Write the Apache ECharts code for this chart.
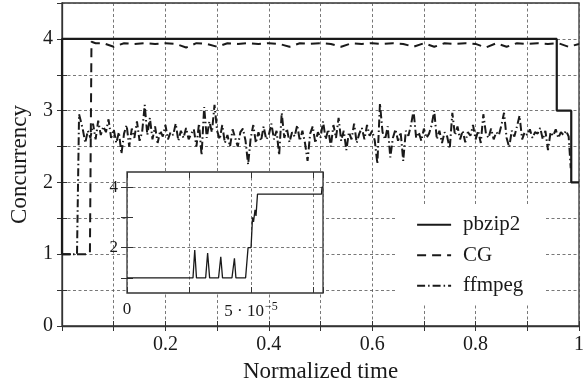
<!DOCTYPE html>
<html>
<head>
<meta charset="utf-8">
<script src="https://cdn.jsdelivr.net/npm/echarts@6/dist/echarts.min.js"></script>
<style>
html,body{margin:0;padding:0;background:#fff;}
#c{width:587px;height:388px;}
</style>
</head>
<body>
<div id="c"></div>
<script>
// ---------------- data ----------------
const seriesNames = ['pbzip2', 'CG', 'ffmpeg'];

// pbzip2 (step function)
const pbzipX = [0, 0.00008, 0.957, 0.957, 0.985, 0.985, 1.0];
const pbzipY = [1, 4, 4, 3, 3, 2, 2];

// CG: start, then sampled every 0.02 from 0.08
const cgHeadX = [0, 0.054, 0.057, 0.065];
const cgHeadY = [1, 1, 3.96, 3.94];
const cgStart = 0.08, cgStep = 0.02;
const cgY = [3.94, 3.89, 3.94, 3.93, 3.94, 3.93, 3.94, 3.93, 3.88, 3.94,
             3.93, 3.89, 3.94, 3.93, 3.94, 3.93, 3.94, 3.93, 3.89, 3.94,
             3.93, 3.94, 3.93, 3.89, 3.94, 3.93, 3.94, 3.93, 3.94, 3.93,
             3.89, 3.94, 3.89, 3.94, 3.93, 3.94, 3.93, 3.88, 3.94, 3.89,
             3.94, 3.93, 3.94, 3.93, 3.94, 3.89, 3.93];

// ffmpeg: start, then sampled every 0.005 from 0.04, then tail
const ffHeadX = [0, 0.029, 0.033];
const ffHeadY = [1, 1, 2.95];
const ffStart = 0.04, ffStep = 0.005;
const ffY = [
  2.75, 2.55, 2.72, 2.62, 2.82, 2.60, 2.86, 2.66, 2.78, 2.70, 2.88, 2.62,
  2.74, 2.55, 2.70, 2.40, 2.68, 2.80, 2.50, 2.75, 2.62, 2.85, 2.58, 2.70, 3.08, 2.66, 2.90, 2.60, 2.78, 2.55, 2.72, 2.64,
  2.80, 2.60, 2.70, 2.66, 2.82, 2.58, 2.72, 2.62, 2.76, 2.60, 2.68, 2.74, 2.50, 2.82, 2.38, 3.05, 2.62, 2.85, 2.70, 3.08,
  2.72, 2.60, 2.80, 2.55, 2.66, 2.50, 2.74, 2.62, 2.50, 2.70, 2.75, 2.58, 2.25, 2.62, 2.80, 2.55, 2.70, 2.58, 2.78, 2.60,
  2.66, 2.82, 2.60, 2.72, 2.38, 2.97, 2.62, 2.75, 2.56, 2.70, 2.64, 2.80, 2.58, 2.72, 2.55, 2.30, 2.68, 2.78, 2.55, 2.70,
  2.62, 2.85, 2.60, 2.74, 2.50, 2.80, 2.62, 2.90, 2.58, 2.72, 2.45, 2.70, 2.60, 2.82, 2.55, 2.68, 2.76, 2.60, 2.80, 2.65,
  2.72, 2.58, 2.26, 3.10, 2.70, 2.60, 2.78, 2.35, 2.62, 2.74, 2.58, 2.70, 2.30, 2.72, 2.65, 2.80, 3.00, 2.62, 2.70, 2.58,
  2.75, 2.62, 2.68, 2.80, 3.00, 2.60, 2.72, 2.55, 2.70, 2.64, 2.47, 2.97, 2.66, 2.78, 2.60, 2.72, 2.56, 2.70, 2.65, 2.80,
  2.60, 2.72, 2.55, 2.95, 2.68, 2.62, 2.75, 2.60, 2.70, 2.66, 2.80, 2.97, 2.62, 2.49, 2.72, 2.64, 2.78, 2.93, 2.60, 2.70,
  2.66, 2.74, 2.62, 2.70, 2.68, 2.76, 2.60, 2.72, 2.45, 2.70, 2.65, 2.74, 2.62, 2.70, 2.66, 2.72, 2.64
];
const ffTailX = [0.984];
const ffTailY = [2.2];

// inset: pbzip2 start, normalized time
const insetX = [0, 2.66e-5, 2.73e-5, 2.80e-5, 3.17e-5, 3.25e-5, 3.33e-5, 3.69e-5, 3.78e-5, 3.85e-5,
                4.23e-5, 4.33e-5, 4.39e-5, 4.78e-5, 4.88e-5, 5.00e-5, 5.06e-5, 5.10e-5, 5.16e-5, 5.20e-5,
                5.26e-5, 7.84e-5, 7.86e-5, 7.90e-5];
const insetY = [1, 1, 1.92, 1, 1, 1.82, 1, 1, 1.7, 1,
                1, 1.65, 1, 1, 2, 2, 3.0, 2.85, 3.25, 3.05,
                3.77, 3.77, 4, 4];

// tick labels
const mainYLabels = [0, 1, 2, 3, 4];
const mainXLabels = ['0.2', '0.4', '0.6', '0.8', '1'];
const insetYLabels = [2, 4];
const insetXLabels = ['0', '5 · 10', '−5'];

// ---------------- build ----------------
const zip = (xs, ys) => xs.map((x, i) => [x, ys[i]]);
const pbzipData = zip(pbzipX, pbzipY);
const cgData = zip(cgHeadX, cgHeadY).concat(cgY.map((y, i) => [cgStart + i * cgStep, y]));
const ffData = zip(ffHeadX, ffHeadY)
  .concat(ffY.map((y, i) => [ffStart + i * ffStep, y]))
  .concat(zip(ffTailX, ffTailY));
const insetData = zip(insetX, insetY);

const FONT = 'Liberation Serif';
const INK = '#1a1a1a';
const AX = '#333';
const gridLine = { show: true, lineStyle: { color: '#555', width: 0.8, type: [3, 2.5] } };

const chart = echarts.init(document.getElementById('c'), null, { renderer: 'canvas' });
chart.setOption({
  animation: false,
  backgroundColor: '#fff',
  textStyle: { fontFamily: FONT },
  grid: [
    { left: 61, right: 3, top: 3, bottom: 62, show: true, borderColor: AX, borderWidth: 1.3, backgroundColor: 'transparent' },
    { left: 127, top: 172, width: 196, height: 121, show: true, z: 5, backgroundColor: '#fff', borderColor: AX, borderWidth: 1.3 }
  ],
  xAxis: [
    { gridIndex: 0, type: 'value', min: 0, max: 1, interval: 0.1, position: 'bottom',
      name: 'Normalized time', nameLocation: 'middle', nameGap: 34,
      nameTextStyle: { fontFamily: FONT, fontSize: 23, color: INK },
      axisLine: { show: true, lineStyle: { color: AX, width: 1.3 } },
      axisTick: { show: true, inside: true, length: 5, lineStyle: { color: AX, width: 1 } },
      axisLabel: { fontFamily: FONT, fontSize: 20, color: INK, margin: 9, hideOverlap: false, showMaxLabel: true, showMinLabel: true,
        formatter: v => { const k = Math.round(v * 10); return (k > 0 && k % 2 === 0) ? mainXLabels[k / 2 - 1] : ''; } },
      splitLine: gridLine },
    { gridIndex: 0, type: 'value', min: 0, max: 1, interval: 0.1, position: 'top',
      axisLine: { show: false }, axisTick: { show: true, inside: true, length: 5, lineStyle: { color: AX } },
      axisLabel: { show: false }, splitLine: { show: false } },
    { gridIndex: 1, type: 'value', min: 0, max: 7.9e-5, interval: 2.5e-5, position: 'bottom', z: 6,
      axisLine: { show: false },
      axisTick: { show: true, inside: true, length: 6, lineStyle: { color: AX } },
      axisLabel: { fontFamily: FONT, fontSize: 17, color: INK, margin: 8, hideOverlap: false, showMinLabel: true,
        formatter: v => { const k = Math.round(v / 2.5e-5); return k === 0 ? insetXLabels[0] : (k === 2 ? '{m|' + insetXLabels[1] + '}{s|' + insetXLabels[2] + '}' : ''); },
        rich: { m: { fontFamily: FONT, fontSize: 17, color: INK }, s: { fontFamily: FONT, fontSize: 12, color: INK, padding: [0, 0, 9, 1] } } },
      splitLine: gridLine },
    { gridIndex: 1, type: 'value', min: 0, max: 7.9e-5, interval: 2.5e-5, position: 'top', z: 6,
      axisLine: { show: false }, axisTick: { show: true, inside: true, length: 6, lineStyle: { color: AX } },
      axisLabel: { show: false }, splitLine: { show: false } }
  ],
  yAxis: [
    { gridIndex: 0, type: 'value', min: 0, max: 4.5, interval: 0.5, position: 'left',
      name: 'Concurrency', nameLocation: 'middle', nameGap: 31,
      nameTextStyle: { fontFamily: FONT, fontSize: 23, color: INK },
      axisLine: { show: true, lineStyle: { color: AX, width: 1.3 } },
      axisTick: { show: true, inside: true, length: 5, lineStyle: { color: AX } },
      axisLabel: { fontFamily: FONT, fontSize: 20, color: INK, margin: 9, showMinLabel: true, showMaxLabel: false,
        formatter: v => (Number.isInteger(v) && mainYLabels.includes(v)) ? String(v) : '' },
      splitLine: gridLine },
    { gridIndex: 0, type: 'value', min: 0, max: 4.5, interval: 0.5, position: 'right',
      axisLine: { show: false }, axisTick: { show: true, inside: true, length: 5, lineStyle: { color: AX } },
      axisLabel: { show: false }, splitLine: { show: false } },
    { gridIndex: 1, type: 'value', min: 0.5, max: 4.5, interval: 0.5, position: 'left', z: 6,
      axisLine: { show: false },
      axisTick: { show: true, inside: true, length: 6, lineStyle: { color: AX }, customValues: [1, 2, 3, 4] },
      axisLabel: { fontFamily: FONT, fontSize: 17, color: INK, margin: 9,
        formatter: v => insetYLabels.includes(v) ? String(v) : '' },
      splitLine: { show: true, lineStyle: { color: ['transparent', '#555'], width: 0.8, type: [3, 2.5] } } },
    { gridIndex: 1, type: 'value', min: 0.5, max: 4.5, interval: 0.5, position: 'right', z: 6,
      axisLine: { show: false },
      axisTick: { show: true, inside: true, length: 6, lineStyle: { color: AX }, customValues: [1, 2, 3, 4] },
      axisLabel: { show: false }, splitLine: { show: false } }
  ],
  legend: {
    data: seriesNames, orient: 'vertical', left: 395, top: 206,
    backgroundColor: '#fff', padding: [8, 22, 8, 21], itemWidth: 34, itemHeight: 14, itemGap: 9,
    itemStyle: { opacity: 0 },
    lineStyle: { width: 2.2 },
    textStyle: { fontFamily: FONT, fontSize: 21, lineHeight: 21.5, color: INK, padding: [0, 0, 0, 7] }
  },
  series: [
    { name: 'pbzip2', type: 'line', xAxisIndex: 0, yAxisIndex: 0, data: pbzipData, symbol: 'none',
      lineStyle: { color: INK, width: 2.2, type: 'solid' }, itemStyle: { color: INK } },
    { name: 'CG', type: 'line', xAxisIndex: 0, yAxisIndex: 0, data: cgData, symbol: 'none',
      lineStyle: { color: INK, width: 2, type: [9, 6] }, itemStyle: { color: INK } },
    { name: 'ffmpeg', type: 'line', xAxisIndex: 0, yAxisIndex: 0, data: ffData, symbol: 'none',
      lineStyle: { color: INK, width: 2, type: [8, 3, 1.5, 3] }, itemStyle: { color: INK } },
    { name: 'inset', type: 'line', xAxisIndex: 2, yAxisIndex: 2, data: insetData, symbol: 'none', z: 7,
      lineStyle: { color: INK, width: 1.3 }, itemStyle: { color: INK } }
  ]
});
</script>
</body>
</html>
